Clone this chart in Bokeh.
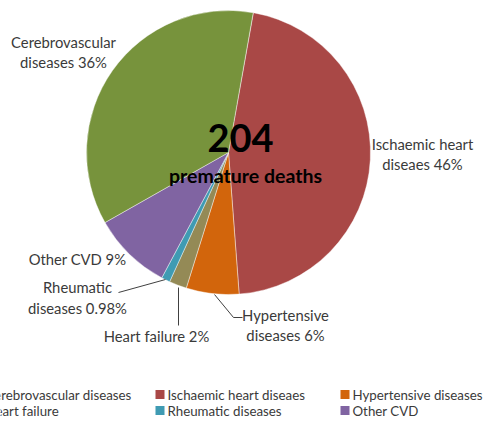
import numpy as np
from bokeh.plotting import figure
from bokeh.models import Range1d, ColumnDataSource
from bokeh.core.properties import value
from bokeh.embed import file_html
from bokeh.resources import INLINE

# ---- data ----
slice_names = ["Ischaemic heart diseaes", "Hypertensive diseases", "Heart failure",
               "Rheumatic diseases", "Other CVD", "Cerebrovascular diseases"]
slice_pct = [46, 6, 2, 0.98, 9, 36]
slice_colors = ["#A94846", "#D2650C", "#948A56", "#3F9BB3", "#8064A2", "#77933C"]

label_lines = [["Ischaemic heart", "diseaes 46%"],
               ["Hypertensive", "diseases 6%"],
               ["Heart failure 2%"],
               ["Rheumatic", "diseases 0.98%"],
               ["Other CVD 9%"],
               ["Cerebrovascular", "diseases 36%"]]

legend_order = ["Cerebrovascular diseases", "Ischaemic heart diseaes", "Hypertensive diseases",
                "Heart failure", "Rheumatic diseases", "Other CVD"]

center_number = "204"
center_caption = "premature deaths"

# ---- layout (picture px -> data) ----
W, H = 484, 417
def Y(sy):
    return 425 - sy

p = figure(width=W, height=H, output_backend="svg", toolbar_location=None,
           x_range=Range1d(0, W), y_range=Range1d(425 - H, 425),
           x_axis_location=None, y_axis_location=None, min_border=0,
           outline_line_color=None)
p.xgrid.visible = False
p.ygrid.visible = False
p.background_fill_color = "white"

cx, cy, r = 228, Y(152), 142
start0 = 90 - 10.1  # degrees, math convention
pct = np.array(slice_pct, dtype=float)
cum = np.concatenate([[0], np.cumsum(pct)[:-1]])
starts = np.radians(start0 - cum * 3.6)
ends = np.radians(start0 - (cum + pct) * 3.6)
src = ColumnDataSource(dict(start=starts, end=ends, color=slice_colors))
p.wedge(x=cx, y=cy, radius=r, start_angle="start", end_angle="end", direction="clock",
        fill_color="color", line_color="white", line_width=0.6, line_alpha=0.7, source=src)

font = "Lato"
txt_color = "#3a3a3a"

# slice labels (picture positions of each line center)
label_pos = [[(422, 143), (422, 163)],
             [(285, 314), (285, 334)],
             [(156, 335)],
             [(77, 286), (77, 307)],
             [(77, 258)],
             [(63, 41), (63, 61)]]
lx, ly, lt = [], [], []
for lines, poss in zip(label_lines, label_pos):
    for t, (sx, sy) in zip(lines, poss):
        lx.append(sx); ly.append(Y(sy)); lt.append(t)
p.text(x=lx, y=ly, text=lt, text_font=value(font), text_font_size="14.8px",
       text_color=txt_color, text_align="center", text_baseline="middle")

# leader lines
p.line(x=[118, 165], y=[Y(292), Y(279)], line_color="#404040", line_width=1)
p.line(x=[178, 178], y=[Y(287), Y(325)], line_color="#404040", line_width=1)
p.line(x=[214, 233, 242], y=[Y(294), Y(317), Y(317)], line_color="#404040", line_width=1)

# center text
p.text(x=[240], y=[Y(137)], text=[center_number], text_font=value(font), text_font_size="38px",
       text_font_style="bold", text_color="black", text_align="center", text_baseline="middle")
p.text(x=[245], y=[Y(175)], text=[center_caption], text_font=value(font), text_font_size="19.5px",
       text_font_style="bold", text_color="black", text_align="center", text_baseline="middle")

# legend
col_sq = [-27, 155, 340]
rows = [394, 410]
color_of = dict(zip(slice_names, slice_colors))
gx, gy, gt, gc = [], [], [], []
for i, name in enumerate(legend_order):
    c, rr = i % 3, i // 3
    gx.append(col_sq[c]); gy.append(Y(rows[rr])); gt.append(name); gc.append(color_of[name])
p.rect(x=[x + 4.5 for x in gx], y=gy, width=9, height=9, fill_color=gc, line_color=None)
p.text(x=[x + 12 for x in gx], y=gy, text=gt, text_font=value(font), text_font_size="13.3px",
       text_color=txt_color, text_align="left", text_baseline="middle")

open("out.html", "w").write(file_html(p, INLINE))
